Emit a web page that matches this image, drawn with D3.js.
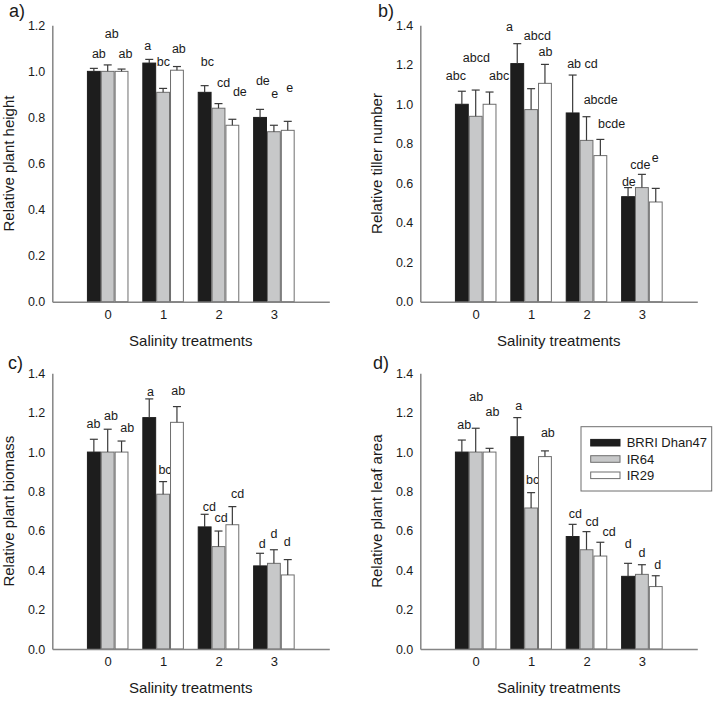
<!DOCTYPE html>
<html><head><meta charset="utf-8">
<script src="https://cdn.jsdelivr.net/npm/d3@7"></script>
<style>body{margin:0;background:#fff}svg{display:block;font-family:"Liberation Sans",Arial,sans-serif}</style>
</head><body><svg id="c" width="714" height="701"></svg>
<script>
// ---------------- DATA ----------------
const categories = ["0", "1", "2", "3"];
const seriesNames = ["BRRI Dhan47", "IR64", "IR29"];
const yTicks12 = [0, 0.2, 0.4, 0.6, 0.8, 1.0, 1.2];
const yTicks14 = [0, 0.2, 0.4, 0.6, 0.8, 1.0, 1.2, 1.4];

// a) Relative plant height
const heightBRRI = [1.0, 1.036, 0.909, 0.800];
const heightIR64 = [1.0, 0.909, 0.840, 0.738];
const heightIR29 = [1.0, 1.005, 0.766, 0.744];
const heightErrBRRI = [0.013, 0.016, 0.029, 0.035];
const heightErrIR64 = [0.028, 0.017, 0.020, 0.028];
const heightErrIR29 = [0.010, 0.016, 0.026, 0.039];
const heightLetBRRI = ["ab", "a", "bc", "de"];
const heightLetIR64 = ["ab", "bc", "cd", "e"];
const heightLetIR29 = ["ab", "ab", "de", "e"];

// b) Relative tiller number
const tillerBRRI = [1.0, 1.206, 0.956, 0.532];
const tillerIR64 = [0.939, 0.973, 0.817, 0.578];
const tillerIR29 = [1.0, 1.106, 0.740, 0.505];
const tillerErrBRRI = [0.066, 0.101, 0.192, 0.046];
const tillerErrIR64 = [0.133, 0.106, 0.120, 0.067];
const tillerErrIR29 = [0.062, 0.096, 0.082, 0.069];
const tillerLetBRRI = ["abc", "a", "ab cd", "de"];
const tillerLetIR64 = ["abcd", "abcd", "abcde", "cde"];
const tillerLetIR29 = ["abc", "ab", "bcde", "e"];

// c) Relative plant biomass
const biomassBRRI = [1.0, 1.175, 0.620, 0.422];
const biomassIR64 = [1.0, 0.786, 0.520, 0.435];
const biomassIR29 = [1.0, 1.151, 0.631, 0.376];
const biomassErrBRRI = [0.065, 0.095, 0.064, 0.064];
const biomassErrIR64 = [0.116, 0.064, 0.079, 0.069];
const biomassErrIR29 = [0.056, 0.080, 0.092, 0.078];
const biomassLetBRRI = ["ab", "a", "cd", "d"];
const biomassLetIR64 = ["ab", "bc", "cd", "d"];
const biomassLetIR29 = ["ab", "ab", "cd", "d"];

// d) Relative plant leaf area
const leafBRRI = [1.0, 1.078, 0.571, 0.369];
const leafIR64 = [1.0, 0.716, 0.504, 0.379];
const leafIR29 = [1.0, 0.977, 0.472, 0.317];
const leafErrBRRI = [0.061, 0.097, 0.062, 0.066];
const leafErrIR64 = [0.121, 0.078, 0.092, 0.049];
const leafErrIR29 = [0.019, 0.029, 0.070, 0.055];
const leafLetBRRI = ["ab", "a", "cd", "d"];
const leafLetIR64 = ["ab", "bc", "cd", "d"];
const leafLetIR29 = ["ab", "ab", "cd", "d"];

// ------------- ANNOTATION PLACEMENT (letter anchors, data units / px nudges) -------------
const heightLabY = [[1.057, 1.093, 1.025, 0.941], [1.144, 1.023, 0.934, 0.883], [1.057, 1.079, 0.894, 0.912]];
const tillerLabY = [[1.123, 1.373, 1.182, 0.586], [1.216, 1.328, 1.001, 0.671], [1.123, 1.243, 0.878, 0.710]];
const biomassLabY = [[1.121, 1.285, 0.701, 0.514], [1.163, 0.887, 0.647, 0.565], [1.104, 1.290, 0.768, 0.525]];
const leafLabY = [[1.116, 1.214, 0.667, 0.511], [1.261, 0.838, 0.625, 0.466], [1.183, 1.078, 0.574, 0.405]];
const heightLabDx = [[5, -1.4, 2.8, 2.8], [4, 0.2, 5.2, 0.8], [4, 1.9, 7.5, 2.1]];
const tillerLabDx = [[-6, -7.8, 9.8, 0.8], [0.6, 6.2, 14.2, -1.6], [9.6, 0.6, 11.2, -0.6]];
const biomassLabDx = [[-0.4, 1.2, 4.8, 2.1], [3.3, 1.9, 2.5, 0.1], [5.6, 1.2, 5.2, -0.6]];
const leafLabDx = [[2.3, 1.6, 2.8, 0.1], [0.6, 1.6, 5.5, 0.1], [3, 2.9, 8.8, 2.1]];

// ---------------- LAYOUT ----------------
const fills = ["#1d1d1d", "#c7c8c9", "#ffffff"];
const strokes = ["#1d1d1d", "#6e6e6e", "#6e6e6e"];
const axisColor = "#858585";
const textColor = "#1a1a1a";

const panels = [
  {tag: "a)", title: "Relative plant height", x0: 52.3, top: 25.3, bottom: 301.7, yMax: 1.2, ticks: yTicks12,
   means: [heightBRRI, heightIR64, heightIR29], errs: [heightErrBRRI, heightErrIR64, heightErrIR29],
   lets: [heightLetBRRI, heightLetIR64, heightLetIR29], labY: heightLabY, labDx: heightLabDx, tagX: 9, tagY: 17},
  {tag: "b)", title: "Relative tiller number", x0: 420.3, top: 25.3, bottom: 301.7, yMax: 1.4, ticks: yTicks14,
   means: [tillerBRRI, tillerIR64, tillerIR29], errs: [tillerErrBRRI, tillerErrIR64, tillerErrIR29],
   lets: [tillerLetBRRI, tillerLetIR64, tillerLetIR29], labY: tillerLabY, labDx: tillerLabDx, tagX: 378, tagY: 17},
  {tag: "c)", title: "Relative plant biomass", x0: 52.3, top: 373.3, bottom: 649, yMax: 1.4, ticks: yTicks14,
   means: [biomassBRRI, biomassIR64, biomassIR29], errs: [biomassErrBRRI, biomassErrIR64, biomassErrIR29],
   lets: [biomassLetBRRI, biomassLetIR64, biomassLetIR29], labY: biomassLabY, labDx: biomassLabDx, tagX: 8, tagY: 369},
  {tag: "d)", title: "Relative plant leaf area", x0: 420.3, top: 373.3, bottom: 649, yMax: 1.4, ticks: yTicks14,
   means: [leafBRRI, leafIR64, leafIR29], errs: [leafErrBRRI, leafErrIR64, leafErrIR29],
   lets: [leafLetBRRI, leafLetIR64, leafLetIR29], labY: leafLabY, labDx: leafLabDx, tagX: 373, tagY: 369}
];

const svg = d3.select("#c");

panels.forEach(p => {
  const g = svg.append("g");
  const x = d3.scaleLinear().domain([-1, 4]).range([p.x0, p.x0 + 277]);
  const y = d3.scaleLinear().domain([0, p.yMax]).range([p.bottom, p.top]);
  const bw = x(0.25) - x(0);

  // bars
  p.means.forEach((vals, s) => {
    vals.forEach((v, i) => {
      const cx = x(i) + (s - 1) * bw;
      g.append("rect")
        .attr("x", cx - bw / 2 + 0.5).attr("y", y(v))
        .attr("width", bw - 1).attr("height", y(0) - y(v))
        .attr("fill", fills[s]).attr("stroke", strokes[s]).attr("stroke-width", 1);
      const e = p.errs[s][i];
      g.append("line").attr("x1", cx).attr("x2", cx).attr("y1", y(v)).attr("y2", y(v + e))
        .attr("stroke", "#3a3a3a").attr("stroke-width", 1.2);
      g.append("line").attr("x1", cx - 4).attr("x2", cx + 4).attr("y1", y(v + e)).attr("y2", y(v + e))
        .attr("stroke", "#3a3a3a").attr("stroke-width", 1.2);
      g.append("text").attr("x", cx + p.labDx[s][i]).attr("y", y(p.labY[s][i]))
        .attr("text-anchor", "middle").attr("font-size", 12.5).attr("fill", textColor)
        .text(p.lets[s][i]);
    });
  });

  // axes
  const ya = d3.axisLeft(y).tickValues(p.ticks).tickSize(0).tickPadding(7).tickFormat(d3.format(".1f"));
  const yg = g.append("g").attr("transform", `translate(${p.x0},0)`).call(ya);
  yg.select(".domain").attr("stroke", axisColor).attr("stroke-width", 1.5);
  yg.selectAll("text").attr("font-size", 12.5).attr("fill", textColor).attr("font-family", "Liberation Sans, Arial, sans-serif");

  const xa = d3.axisBottom(x).tickValues([0, 1, 2, 3]).tickSize(0).tickPadding(8)
    .tickFormat(d => categories[d]);
  const xg = g.append("g").attr("transform", `translate(0,${p.bottom})`).call(xa);
  xg.select(".domain").attr("stroke", axisColor).attr("stroke-width", 1.5);
  xg.selectAll("text").attr("font-size", 13).attr("fill", textColor).attr("font-family", "Liberation Sans, Arial, sans-serif");

  // titles
  g.append("text").attr("x", (x.range()[0] + x.range()[1]) / 2).attr("y", p.bottom + 44)
    .attr("text-anchor", "middle").attr("font-size", 15).attr("fill", textColor).text("Salinity treatments");
  g.append("text").attr("transform", `translate(${p.x0 - 38},${(p.top + p.bottom) / 2}) rotate(-90)`)
    .attr("text-anchor", "middle").attr("font-size", 15).attr("fill", textColor).text(p.title);
  g.append("text").attr("x", p.tagX).attr("y", p.tagY).attr("font-size", 18).attr("fill", textColor).text(p.tag);
});

// legend (in panel d)
const lg = svg.append("g");
lg.append("rect").attr("x", 581).attr("y", 426.7).attr("width", 130.7).attr("height", 64.3)
  .attr("fill", "#fff").attr("stroke", "#6e6e6e").attr("stroke-width", 1);
seriesNames.forEach((n, s) => {
  const cy = 442.7 + s * 16.3;
  lg.append("rect").attr("x", 590.7).attr("y", cy - 3.3).attr("width", 29.3).attr("height", 6.6)
    .attr("fill", fills[s]).attr("stroke", strokes[s]).attr("stroke-width", 1);
  lg.append("text").attr("x", 626.7).attr("y", cy).attr("dy", "0.35em")
    .attr("font-size", 13).attr("fill", textColor).text(n);
});
</script></body></html>
